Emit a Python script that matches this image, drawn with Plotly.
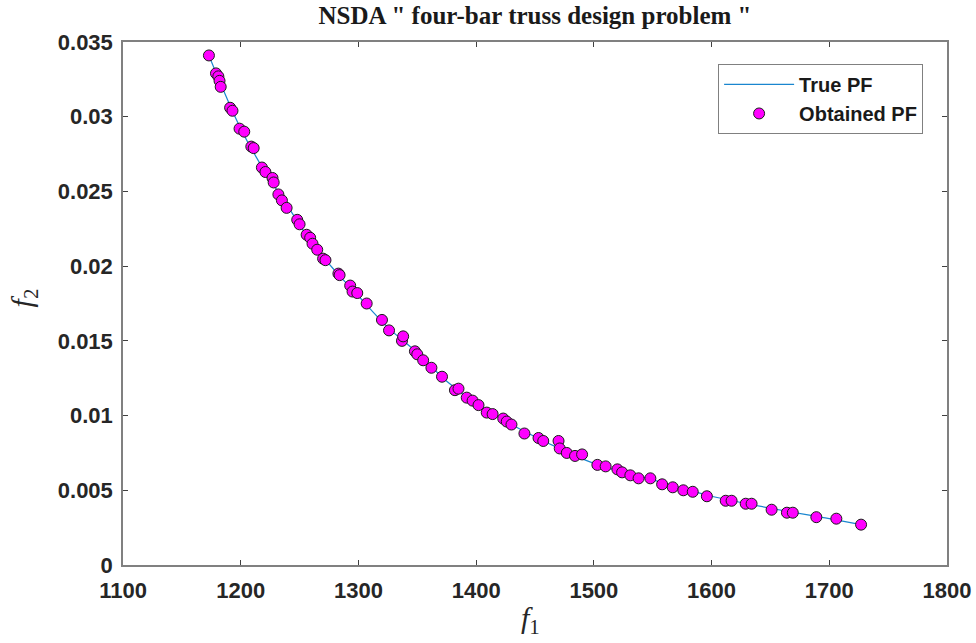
import plotly.graph_objects as go

# Obtained Pareto front
obt_f1 = [1173, 1179, 1181, 1182, 1183, 1191, 1193, 1199, 1203, 1209, 1211, 1218, 1221,
          1227, 1228, 1232, 1235, 1239, 1248, 1250, 1256, 1259, 1261, 1265, 1270, 1272,
          1283, 1284, 1293, 1295, 1299, 1307, 1320, 1326, 1337, 1338, 1348, 1350, 1355,
          1362, 1371, 1382, 1385, 1392, 1397, 1402, 1409, 1414, 1423, 1426, 1430, 1441,
          1453, 1457, 1470, 1471, 1477, 1484, 1490, 1503, 1510, 1520, 1524, 1531, 1538,
          1548, 1558, 1567, 1576, 1584, 1596, 1612, 1617, 1629, 1634, 1651, 1664, 1669,
          1689, 1706, 1727]
obt_f2 = [0.0341, 0.0329, 0.0327, 0.0324, 0.0320, 0.0306, 0.0304, 0.0292, 0.0290, 0.0280,
          0.0279, 0.0266, 0.0263, 0.0259, 0.0256, 0.0248, 0.0244, 0.0239, 0.0231, 0.0228,
          0.0221, 0.0219, 0.0215, 0.0211, 0.0205, 0.0204, 0.0195, 0.0194, 0.0187, 0.0183,
          0.0182, 0.0175, 0.0164, 0.0157, 0.0150, 0.0153, 0.0143, 0.0141, 0.0137, 0.0132,
          0.0126, 0.0117, 0.0118, 0.0112, 0.0110, 0.0107, 0.0102, 0.0101, 0.0098, 0.0096,
          0.0094, 0.0088, 0.0085, 0.0083, 0.0083, 0.0078, 0.0075, 0.0073, 0.0074, 0.0067,
          0.0066, 0.0064, 0.0062, 0.0060, 0.0058, 0.0058, 0.0054, 0.0052, 0.0050, 0.0049,
          0.0046, 0.0043, 0.0043, 0.0041, 0.0041, 0.0037, 0.0035, 0.0035, 0.0032, 0.0031,
          0.0027]

# True Pareto front
true_f1 = [1173, 1183, 1200, 1220, 1240, 1260, 1280, 1300, 1325, 1350, 1375, 1400, 1430,
           1460, 1500, 1550, 1600, 1650, 1700, 1727]
true_f2 = [0.0341, 0.0322, 0.0292, 0.0264, 0.0240, 0.0216, 0.0197, 0.0180, 0.0159, 0.0142,
           0.0123, 0.0108, 0.0094, 0.0082, 0.0068, 0.0057, 0.0046, 0.0038, 0.0031, 0.0027]

x_ticks = [1100, 1200, 1300, 1400, 1500, 1600, 1700, 1800]
y_ticks = [0, 0.005, 0.01, 0.015, 0.02, 0.025, 0.03, 0.035]
y_tick_text = ["0", "0.005", "0.01", "0.015", "0.02", "0.025", "0.03", "0.035"]

fig = go.Figure()
fig.add_trace(go.Scatter(x=true_f1, y=true_f2, mode="lines", name="True PF",
                         line=dict(color="#1a86cf", width=1.2, shape="spline")))
fig.add_trace(go.Scatter(x=obt_f1, y=obt_f2, mode="markers", name="Obtained PF",
                         marker=dict(color="#ff00ff", size=11,
                                     line=dict(color="#1a1a1a", width=1))))

axis_common = dict(showgrid=False, zeroline=False, showline=True, linecolor="#808080",
                   linewidth=1.5, mirror="ticks", ticks="inside", ticklen=5,
                   tickcolor="#404040", tickwidth=1, automargin=False,
                   tickfont=dict(family="Liberation Sans, Arial", size=22,
                                 color="#262626", weight="bold"))

serif = "Liberation Serif, Times New Roman"

fig.update_layout(
    width=976, height=643,
    margin=dict(l=123, r=29, t=42, b=78, autoexpand=False),
    plot_bgcolor="white", paper_bgcolor="white",
    title=dict(text="NSDA \" four-bar truss design problem \"", x=0.5, xref="paper",
               xanchor="center", y=0.976, yref="container", yanchor="middle",
               font=dict(family=serif, size=25, color="#1a1a1a", weight="bold")),
    xaxis=dict(range=[1100, 1800], tickvals=x_ticks, ticktext=[str(v) for v in x_ticks],
               ticklabelstandoff=5, **axis_common),
    yaxis=dict(range=[0, 0.035], tickvals=y_ticks, ticktext=y_tick_text,
               ticklabelstandoff=4, **axis_common),
    legend=dict(x=0.971, y=0.958, xanchor="right", yanchor="top",
                bgcolor="white", bordercolor="#808080", borderwidth=1,
                tracegroupgap=0, itemwidth=70,
                font=dict(family="Liberation Sans, Arial", size=20, color="#1a1a1a",
                          weight="bold")),
    showlegend=True,
    annotations=[
        dict(text="<i>f</i><sub>1</sub>", x=0.495, xref="paper", y=-0.105, yref="paper",
             xanchor="center", yanchor="middle", showarrow=False,
             font=dict(family=serif, size=30, color="#262626")),
        dict(text="<i>f</i><sub>2</sub>", x=-0.12, xref="paper", y=0.51, yref="paper",
             xanchor="center", yanchor="middle", showarrow=False, textangle=-90,
             font=dict(family=serif, size=30, color="#262626")),
    ],
)

fig.write_html("out.html")
